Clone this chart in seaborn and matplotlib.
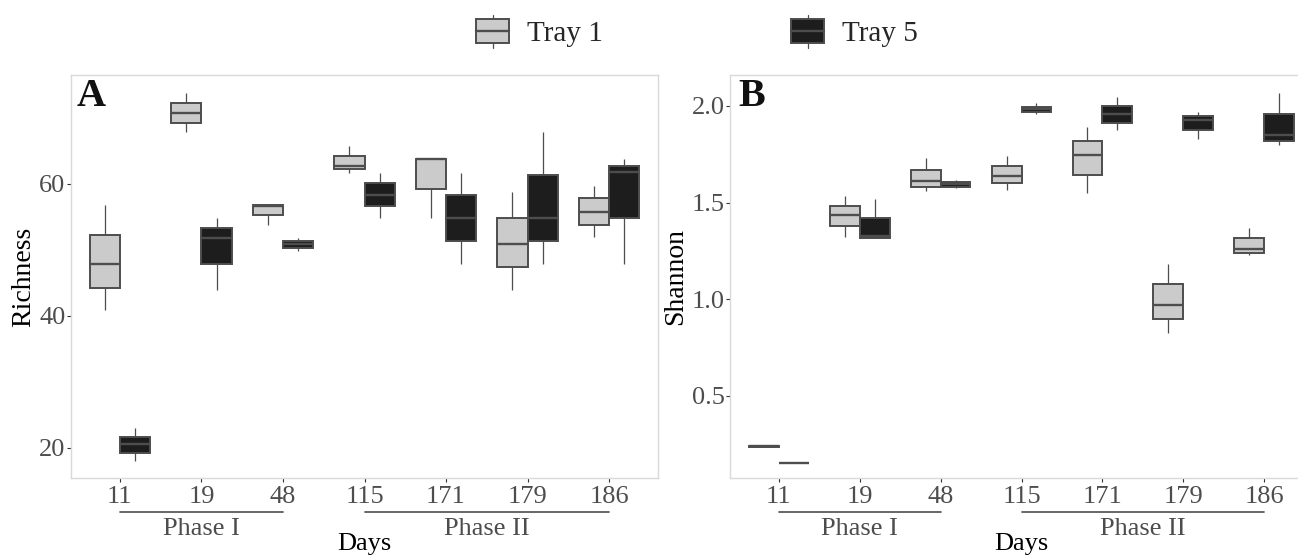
import matplotlib
matplotlib.use("Agg")
import matplotlib.pyplot as plt
import seaborn as sns
import pandas as pd
from matplotlib.patches import Rectangle, Patch
from matplotlib.lines import Line2D
from matplotlib.legend_handler import HandlerBase

# === Data (min, q1, median, q3, max) ===
days = ['11', '19', '48', '115', '171', '179', '186']
trays = ['Tray 1', 'Tray 5']

richness_tray1 = [
    [40.9, 44.3, 47.9, 52.3, 56.8],
    [67.8, 69.3, 70.8, 72.3, 73.7],
    [53.8, 55.3, 56.7, 56.8, 56.8],
    [61.7, 62.2, 62.7, 64.3, 65.7],
    [54.8, 59.3, 63.7, 63.8, 63.8],
    [43.9, 47.4, 50.9, 54.8, 58.8],
    [51.9, 53.8, 55.8, 57.8, 59.7],
]
richness_tray5 = [
    [18.0, 19.2, 20.6, 21.7, 23.0],
    [43.9, 47.8, 51.8, 53.3, 54.8],
    [49.9, 50.3, 50.9, 51.3, 51.8],
    [54.8, 56.6, 58.3, 60.1, 61.7],
    [47.9, 51.3, 54.8, 58.3, 61.7],
    [47.9, 51.3, 54.8, 61.3, 67.8],
    [47.9, 54.8, 61.8, 62.7, 63.8],
]
shannon_tray1 = [
    [0.233, 0.236, 0.239, 0.242, 0.245],
    [1.322, 1.377, 1.434, 1.481, 1.533],
    [1.559, 1.581, 1.611, 1.671, 1.728],
    [1.567, 1.599, 1.637, 1.689, 1.740],
    [1.547, 1.645, 1.746, 1.820, 1.893],
    [0.824, 0.898, 0.972, 1.080, 1.183],
    [1.227, 1.240, 1.261, 1.317, 1.370],
]
shannon_tray5 = [
    [0.152, 0.153, 0.154, 0.155, 0.156],
    [1.317, 1.317, 1.325, 1.422, 1.521],
    [1.573, 1.581, 1.595, 1.607, 1.619],
    [1.958, 1.971, 1.984, 1.997, 2.014],
    [1.875, 1.910, 1.957, 2.000, 2.045],
    [1.829, 1.875, 1.927, 1.948, 1.967],
    [1.798, 1.820, 1.849, 1.958, 2.066],
]

phases = ['Phase I', 'Phase II']
phase_spans = [(0, 2), (3, 6)]

# === Style ===
light = '#cbcbcb'
dark = '#1d1d1d'
line = '#4d4d4d'

sns.set_theme(style='white')
plt.rcParams['font.family'] = ['Liberation Serif', 'DejaVu Serif']


def to_long(tray1, tray5):
    rows = []
    for tray, vals in zip(trays, [tray1, tray5]):
        for d, v in zip(days, vals):
            for x in v:
                rows.append({'Days': d, 'Tray': tray, 'value': x})
    return pd.DataFrame(rows)


def draw_panel(ax, df, ylabel, ylim, yticks, ytlabels, letter, letter_x, ylab_x):
    sns.boxplot(data=df, x='Days', y='value', hue='Tray', order=days,
                hue_order=trays, palette=[light, dark], saturation=1,
                width=0.74, gap=0, whis=(0, 100), linecolor=line,
                linewidth=1.4, showcaps=False, legend=False, ax=ax,
                whiskerprops=dict(linewidth=0.9),
                medianprops=dict(linewidth=1.7, color=line))
    ax.set_xlim(-0.6, 6.6)
    ax.set_ylim(*ylim)
    ax.set_yticks(yticks)
    ax.set_yticklabels(ytlabels)
    for s in ax.spines.values():
        s.set_color('#d9d9d9')
        s.set_linewidth(1)
    ax.tick_params(axis='both', bottom=True, left=True, length=3, width=0.8,
                   color='#333333', labelcolor=line, labelsize=19)
    ax.tick_params(axis='x', pad=2.5)
    ax.tick_params(axis='y', pad=1)
    ax.set_ylabel(ylabel, fontsize=20, color='black')
    ax.yaxis.label.set_va('center')
    ax.yaxis.set_label_coords(ylab_x, 0.5)
    ax.set_xlabel('Days', fontsize=19, color='black')
    ax.xaxis.label.set_va('center')
    ax.xaxis.set_label_coords(0.5, -0.163)
    trans = ax.get_xaxis_transform()
    for name, (a, b) in zip(phases, phase_spans):
        ax.plot([a, b], [-0.085, -0.085], color=line, lw=1.2,
                transform=trans, clip_on=False)
        ax.text((a + b) / 2, -0.141, name, transform=trans, ha='center',
                va='baseline', fontsize=19, color=line)
    ax.text(letter_x, 0.923, letter, transform=ax.transAxes, ha='left',
            va='baseline', fontsize=29, fontweight='bold', color='#111111')


class BoxGlyph(HandlerBase):
    def create_artists(self, legend, orig_handle, xdescent, ydescent,
                       width, height, fontsize, trans):
        x0 = -xdescent
        yc = -ydescent + height / 2
        bh = 0.95 * height
        wh = 1.32 * height
        whisk = Line2D([x0 + width / 2] * 2, [yc - wh / 2, yc + wh / 2],
                       color=line, lw=0.9, transform=trans)
        box = Rectangle((x0, yc - bh / 2), width, bh,
                        facecolor=orig_handle.get_facecolor(),
                        edgecolor=line, lw=1.4, transform=trans)
        med = Line2D([x0, x0 + width], [yc, yc], color=line, lw=1.7,
                     transform=trans)
        return [whisk, box, med]


W, H = 1298, 557
fig = plt.figure(figsize=(W / 100, H / 100), dpi=100)
axA = fig.add_axes([71 / W, 1 - 478 / H, 587 / W, 403 / H])
axB = fig.add_axes([730 / W, 1 - 478 / H, 583 / W, 403 / H])

draw_panel(axA, to_long(richness_tray1, richness_tray5), 'Richness',
           (15.45, 76.5), [20, 40, 60], ['20', '40', '60'], 'A', 0.010, -0.08)
draw_panel(axB, to_long(shannon_tray1, shannon_tray5), 'Shannon',
           (0.075, 2.16), [0.5, 1.0, 1.5, 2.0], ['0.5', '1.0', '1.5', '2.0'],
           'B', 0.014, -0.093)

handles = [Patch(facecolor=light, label='Tray 1'),
           Patch(facecolor=dark, label='Tray 5')]
fig.legend(handles=handles, handler_map={Patch: BoxGlyph()}, loc='center',
           bbox_to_anchor=(0.537, 0.941), ncol=2, frameon=False,
           handlelength=1.13, handleheight=0.95, handletextpad=0.62,
           columnspacing=6.45, fontsize=21)

fig.savefig('out.png', dpi=100)
